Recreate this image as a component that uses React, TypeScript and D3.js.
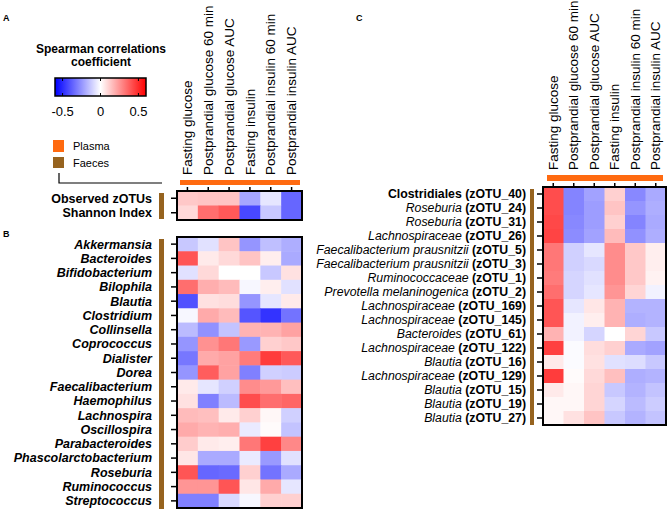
import React from "react";
import * as d3 from "d3";

const columns = [
  "Fasting glucose",
  "Postprandial glucose 60 min",
  "Postprandial glucose AUC",
  "Fasting insulin",
  "Postprandial insulin 60 min",
  "Postprandial insulin AUC",
];

const rowsA = ["Observed zOTUs", "Shannon Index"];
const valuesA = [
  [0.13, 0.14, 0.14, -0.21, -0.06, -0.36],
  [0.09, 0.34, 0.39, -0.43, -0.13, -0.36],
];

const rowsB = [
  "Akkermansia", "Bacteroides", "Bifidobacterium", "Bilophila", "Blautia",
  "Clostridium", "Collinsella", "Coprococcus", "Dialister", "Dorea",
  "Faecalibacterium", "Haemophilus", "Lachnospira", "Oscillospira",
  "Parabacteroides", "Phascolarctobacterium", "Roseburia", "Ruminococcus",
  "Streptococcus",
];
const valuesB = [
  [-0.13, -0.07, 0.14, -0.25, -0.15, -0.19],
  [0.4, 0.05, 0.09, 0.14, 0.04, -0.2],
  [-0.07, 0.09, 0.0, 0.0, -0.13, 0.07],
  [0.34, 0.19, 0.16, -0.02, 0.04, -0.07],
  [-0.41, 0.07, 0.08, -0.25, -0.06, 0.05],
  [-0.02, 0.2, 0.16, -0.4, -0.48, -0.33],
  [-0.16, -0.26, -0.14, 0.18, 0.18, 0.22],
  [-0.25, 0.26, 0.32, -0.24, 0.11, 0.13],
  [-0.32, 0.2, 0.22, 0.31, 0.46, 0.39],
  [-0.25, 0.38, 0.22, -0.3, -0.11, -0.12],
  [0.05, -0.06, -0.11, 0.27, 0.24, 0.15],
  [0.07, -0.3, -0.16, 0.42, 0.34, 0.36],
  [0.16, 0.15, 0.05, 0.11, 0.02, -0.11],
  [0.2, 0.18, 0.19, -0.05, 0.01, -0.14],
  [0.12, 0.05, 0.04, 0.32, 0.45, 0.28],
  [0.06, -0.2, -0.2, -0.05, -0.24, -0.07],
  [0.4, -0.36, -0.35, 0.11, -0.33, -0.2],
  [0.25, 0.25, 0.4, 0.06, 0.2, -0.06],
  [-0.3, -0.3, -0.09, -0.02, 0.11, 0.11],
];

const taxaC = [
  "Clostridiales", "Roseburia", "Roseburia", "Lachnospiraceae",
  "Faecalibacterium prausnitzii", "Faecalibacterium prausnitzii",
  "Ruminococcaceae", "Prevotella melaninogenica", "Lachnospiraceae",
  "Lachnospiraceae", "Bacteroides", "Lachnospiraceae", "Blautia",
  "Lachnospiraceae", "Blautia", "Blautia", "Blautia",
];
const otusC = [
  "(zOTU_40)", "(zOTU_24)", "(zOTU_31)", "(zOTU_26)", "(zOTU_5)", "(zOTU_3)",
  "(zOTU_1)", "(zOTU_2)", "(zOTU_169)", "(zOTU_145)", "(zOTU_61)",
  "(zOTU_122)", "(zOTU_16)", "(zOTU_129)", "(zOTU_15)", "(zOTU_19)", "(zOTU_27)",
];
const valuesC = [
  [0.42, -0.29, -0.22, 0.11, -0.28, -0.2],
  [0.42, -0.29, -0.23, 0.14, -0.25, -0.19],
  [0.43, -0.28, -0.23, 0.11, -0.29, -0.2],
  [0.44, -0.27, -0.22, 0.16, -0.26, -0.19],
  [0.32, -0.11, -0.06, 0.27, 0.13, 0.04],
  [0.32, -0.11, -0.09, 0.27, 0.13, 0.04],
  [0.31, -0.1, -0.07, 0.27, 0.13, 0.03],
  [0.34, -0.1, -0.06, 0.25, 0.1, -0.03],
  [0.4, -0.06, 0.06, 0.18, -0.18, -0.18],
  [0.4, -0.03, 0.04, 0.18, -0.19, -0.18],
  [0.18, -0.03, -0.1, 0.0, 0.1, -0.13],
  [0.45, -0.01, 0.08, 0.11, -0.2, -0.22],
  [0.05, -0.01, 0.07, -0.07, -0.08, -0.13],
  [0.46, 0.01, 0.09, 0.15, -0.19, -0.18],
  [0.05, 0.02, 0.1, -0.13, -0.18, -0.14],
  [0.02, 0.02, 0.1, -0.1, -0.16, -0.12],
  [0.02, 0.07, 0.14, -0.13, -0.18, -0.14],
];

const legendTicks = [-0.5, 0, 0.5];

const FONT = "'Liberation Sans', Arial, Helvetica, sans-serif";
const ORANGE = "#ff6a10";
const BROWN = "#96631f";

const color = d3
  .scaleLinear<string>()
  .domain([-0.6, 0, 0.6])
  .range(["#0000ff", "#ffffff", "#ff0000"])
  .clamp(true);

type HMProps = {
  x0: number; x1: number; y0: number; y1: number;
  values: number[][];
  topTicks: boolean;
};

function Heatmap({ x0, x1, y0, y1, values, topTicks }: HMProps) {
  const xs = d3.scaleBand<number>().domain(d3.range(columns.length)).range([x0, x1]);
  const ys = d3.scaleBand<number>().domain(d3.range(values.length)).range([y0, y1]);
  return (
    <g>
      {values.map((row, i) =>
        row.map((v, j) => (
          <rect
            key={`${i}-${j}`}
            x={xs(j)!}
            y={ys(i)!}
            width={xs.bandwidth() + 0.5}
            height={ys.bandwidth() + 0.5}
            fill={color(v)}
          />
        ))
      )}
      {values.map((_, i) => (
        <line key={`rt${i}`} x1={x0 - 6} x2={x0} y1={ys(i)! + ys.bandwidth() / 2} y2={ys(i)! + ys.bandwidth() / 2} stroke="#000" strokeWidth={1.5} />
      ))}
      {topTicks &&
        columns.map((_, j) => (
          <line key={`ct${j}`} x1={xs(j)! + xs.bandwidth() / 2} x2={xs(j)! + xs.bandwidth() / 2} y1={y0 - 4} y2={y0} stroke="#000" strokeWidth={1.5} />
        ))}
      <rect x={x0} y={y0} width={x1 - x0} height={y1 - y0} fill="none" stroke="#000" strokeWidth={2} />
    </g>
  );
}

function ColumnLabels({ x0, x1, yEnd }: { x0: number; x1: number; yEnd: number }) {
  const xs = d3.scaleBand<number>().domain(d3.range(columns.length)).range([x0, x1]);
  return (
    <g>
      {columns.map((c, j) => {
        const cx = xs(j)! + xs.bandwidth() / 2;
        return (
          <text
            key={c}
            transform={`translate(${cx},${yEnd}) rotate(-90)`}
            dy="0.35em"
            fontSize={13.5}
            fontFamily={FONT}
            fill="#000"
          >
            {c}
          </text>
        );
      })}
    </g>
  );
}

export default function App() {
  const legendX = d3.scaleLinear().domain([-0.6, 0.6]).range([55, 146]);
  const stops = d3.range(0, 1.0001, 0.1).map((t) => ({ t, c: color(-0.6 + 1.2 * t) }));

  const yB = d3.scaleBand<number>().domain(d3.range(rowsB.length)).range([237, 508]);
  const yA = d3.scaleBand<number>().domain(d3.range(rowsA.length)).range([191, 220]);
  const yC = d3.scaleBand<number>().domain(d3.range(taxaC.length)).range([187, 425]);

  return (
    <svg
      width={669}
      height={513}
      style={{ position: "absolute", left: 0, top: 0, background: "#fff" }}
      fontFamily={FONT}
    >
      <defs>
        <linearGradient id="lg" x1="0" x2="1" y1="0" y2="0">
          {stops.map((s) => (
            <stop key={s.t} offset={`${s.t * 100}%`} stopColor={s.c} />
          ))}
        </linearGradient>
      </defs>
      <rect width={669} height={513} fill="#fff" />

      {/* panel letters */}
      <text x={3} y={21} fontSize={9} fontWeight="bold">A</text>
      <text x={3} y={237} fontSize={9} fontWeight="bold">B</text>
      <text x={356} y={21} fontSize={9} fontWeight="bold">C</text>

      {/* legend */}
      <text x={101} y={53} fontSize={12} fontWeight="bold" textAnchor="middle">Spearman correlations</text>
      <text x={101} y={66} fontSize={12} fontWeight="bold" textAnchor="middle">coefficient</text>
      <rect x={55} y={78} width={91} height={18} fill="url(#lg)" stroke="#000" strokeWidth={1.5} />
      {legendTicks.map((t) => (
        <g key={t}>
          <line x1={legendX(t)} x2={legendX(t)} y1={78} y2={81} stroke="#000" strokeWidth={1} />
          <line x1={legendX(t)} x2={legendX(t)} y1={93} y2={96} stroke="#000" strokeWidth={1} />
          <text x={legendX(t)} y={116} fontSize={13} textAnchor="middle">{t === 0 ? "0" : String(t)}</text>
        </g>
      ))}
      <rect x={53} y={140} width={11} height={12} fill={ORANGE} />
      <text x={73} y={150} fontSize={11}>Plasma</text>
      <rect x={53} y={157} width={11} height={11} fill={BROWN} />
      <text x={73} y={167} fontSize={11}>Faeces</text>
      <path d="M59,173 V183 H162" fill="none" stroke="#000" strokeWidth={1.2} />

      {/* Panel A */}
      <ColumnLabels x0={177} x1={302} yEnd={175} />
      <rect x={180} y={180} width={120} height={5} fill={ORANGE} />
      <rect x={159} y={193} width={5} height={26} fill={BROWN} />
      {rowsA.map((r, i) => (
        <text key={r} x={152} y={yA(i)! + yA.bandwidth() / 2} dy="0.35em" fontSize={12.5} fontWeight="bold" textAnchor="end">{r}</text>
      ))}
      <Heatmap x0={177} x1={302} y0={191} y1={220} values={valuesA} topTicks={true} />

      {/* Panel B */}
      <rect x={159} y={239} width={5} height={270} fill={BROWN} />
      {rowsB.map((r, i) => (
        <text key={r} x={152} y={yB(i)! + yB.bandwidth() / 2} dy="0.35em" fontSize={12.5} fontWeight="bold" fontStyle="italic" textAnchor="end">{r}</text>
      ))}
      <Heatmap x0={177} x1={302} y0={237} y1={508} values={valuesB} topTicks={false} />

      {/* Panel C */}
      <ColumnLabels x0={543} x1={666} yEnd={170} />
      <rect x={547} y={175} width={116} height={6} fill={ORANGE} />
      <rect x={530} y={189} width={4} height={236} fill={BROWN} />
      {taxaC.map((t, i) => (
        <text key={i} x={526} y={yC(i)! + yC.bandwidth() / 2} dy="0.35em" fontSize={12.3} textAnchor="end">
          <tspan fontStyle={i === 0 ? "normal" : "italic"} fontWeight={i === 0 ? "bold" : "normal"}>{t}</tspan>
          <tspan fontWeight="bold">{" " + otusC[i]}</tspan>
        </text>
      ))}
      <Heatmap x0={543} x1={666} y0={187} y1={425} values={valuesC} topTicks={true} />
    </svg>
  );
}
